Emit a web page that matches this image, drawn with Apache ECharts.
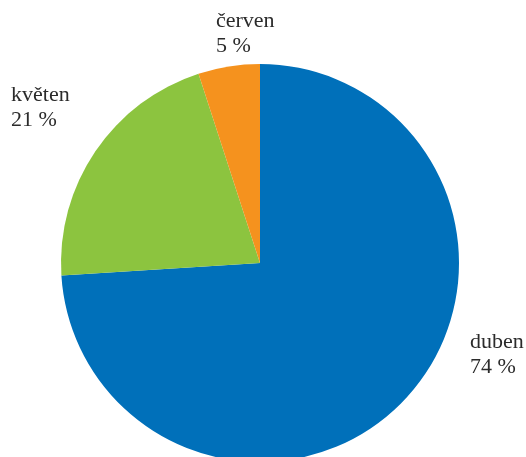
<!DOCTYPE html>
<html>
<head>
<meta charset="utf-8">
<script src="https://cdn.jsdelivr.net/npm/echarts@6/dist/echarts.min.js"></script>
<style>
  html, body { margin: 0; padding: 0; background: #fff; }
  #chart { width: 526px; height: 457px; }
</style>
</head>
<body>
<div id="chart"></div>
<script>
// Monthly shares, drawn clockwise from 12 o'clock
const months = ['duben', 'květen', 'červen'];
const shares = [74, 21, 5];
const colors = ['#0070BA', '#8CC43F', '#F5921E'];

// Where each month's label box starts (left, top)
const labelSpots = [
  { x: 470, y: 330 },
  { x: 11, y: 83 },
  { x: 216, y: 9 }
];

const chart = echarts.init(document.getElementById('chart'));
chart.setOption({
  animation: false,
  series: [{
    type: 'pie',
    center: [260, 263],
    radius: [0, 199],
    startAngle: 90,
    clockwise: true,
    data: months.map((m, i) => ({
      name: m,
      value: shares[i],
      itemStyle: { color: colors[i] }
    })),
    label: {
      show: true,
      formatter: p => p.name + '\n' + p.value + ' %',
      fontFamily: 'Liberation Serif',
      fontSize: 22,
      lineHeight: 25,
      color: '#2b2b2b',
      align: 'left',
      overflow: 'none',
      alignTo: 'none'
    },
    labelLine: { show: false },
    labelLayout: p => ({
      x: labelSpots[p.dataIndex].x,
      y: labelSpots[p.dataIndex].y,
      align: 'left',
      verticalAlign: 'top'
    }),
    emphasis: { disabled: true }
  }]
});
</script>
</body>
</html>
